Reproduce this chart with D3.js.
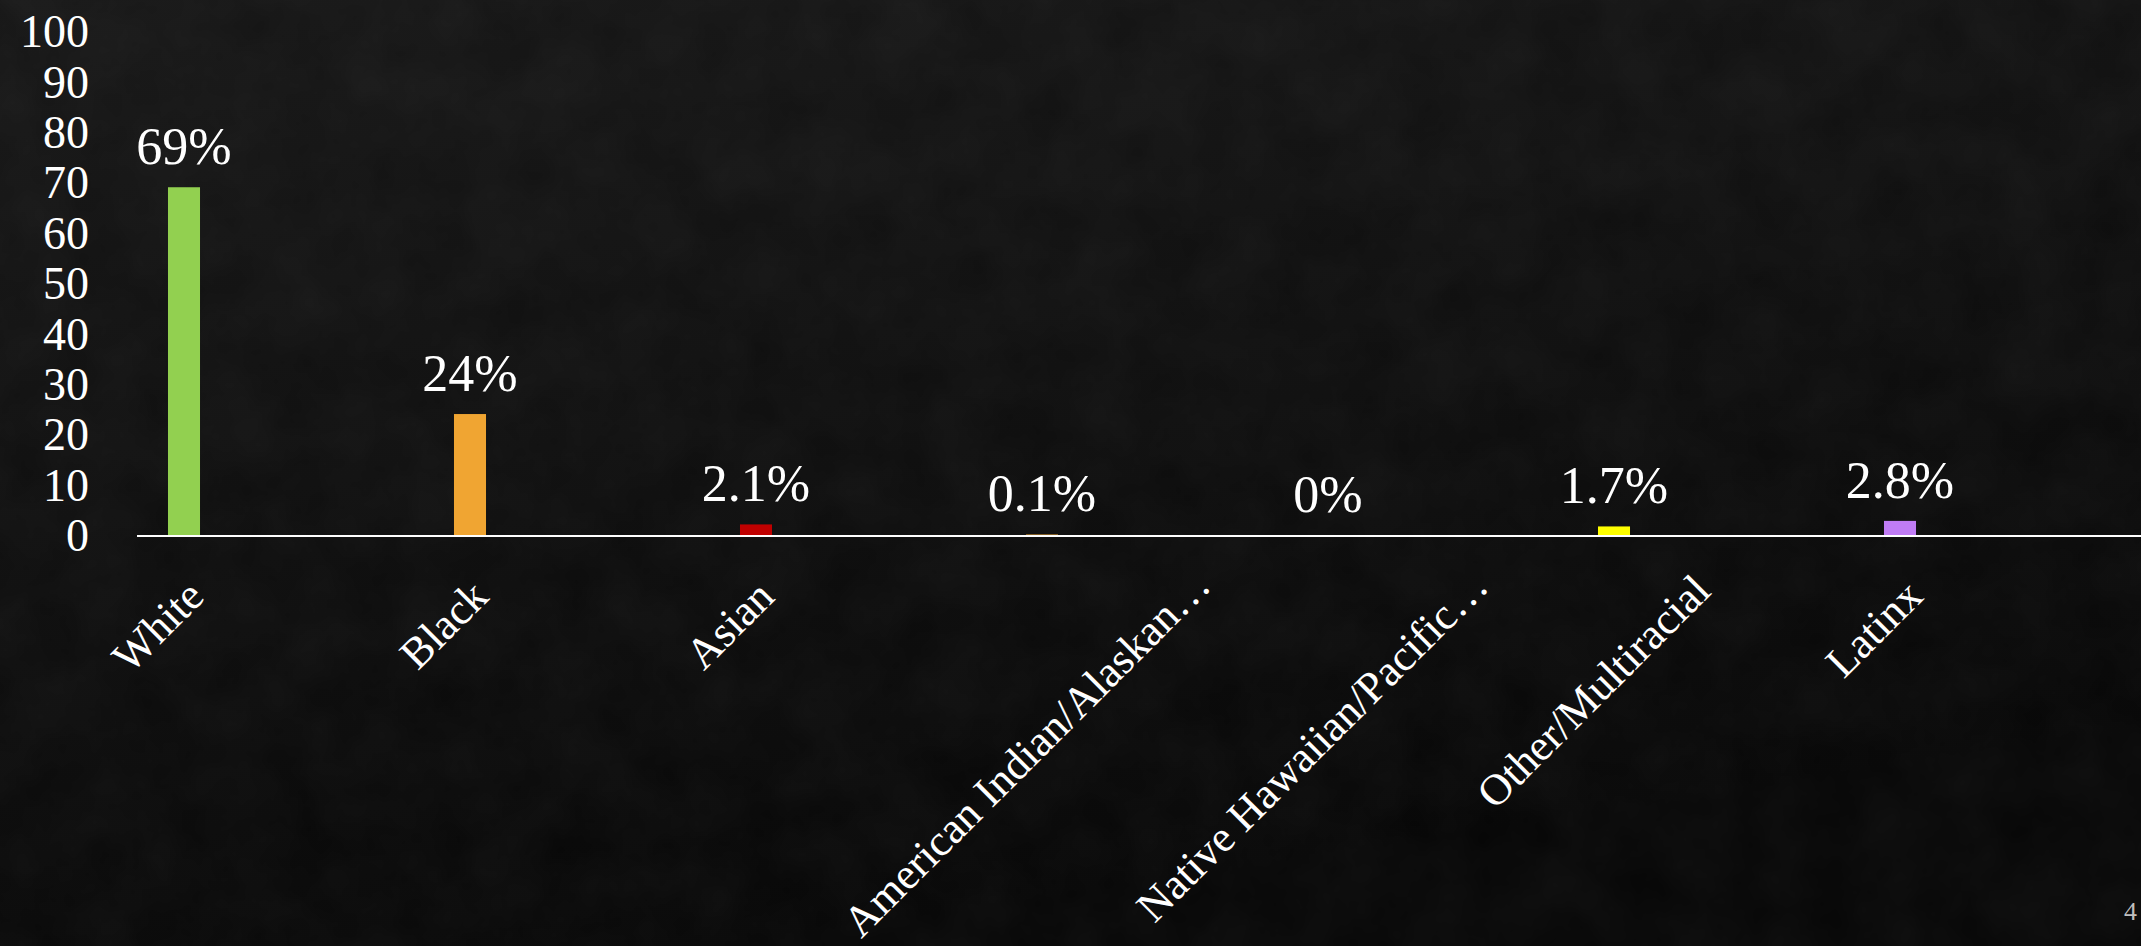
<!DOCTYPE html>
<html>
<head>
<meta charset="utf-8">
<script src="https://cdn.jsdelivr.net/npm/d3@7"></script>
<style>
  html, body { margin: 0; padding: 0; background: #0e0e0e; overflow: hidden; }
  svg { display: block; }
</style>
</head>
<body>
<svg id="chart" width="2141" height="946"></svg>
<script>
// Share of population by race / ethnicity (percent)
const categories = ["White", "Black", "Asian", "American Indian/Alaskan…", "Native Hawaiian/Pacific…", "Other/Multiracial", "Latinx"];
const values = [69, 24, 2.1, 0.1, 0, 1.7, 2.8];
const valueLabels = ["69%", "24%", "2.1%", "0.1%", "0%", "1.7%", "2.8%"];
const barColors = ["#92d050", "#f0a532", "#c00000", "#f0a532", "#5b9bd5", "#ffff00", "#c07cf5"];
const yTicks = [0, 10, 20, 30, 40, 50, 60, 70, 80, 90, 100];
const slideNumber = "4";

const W = 2141, H = 946;
const FONT = "'Liberation Serif', 'Times New Roman', serif";
const svg = d3.select("#chart");

// chalkboard-like backdrop
const defs = svg.append("defs");
const bg = defs.append("linearGradient").attr("id", "bg").attr("x1", 0).attr("y1", 0).attr("x2", 0.35).attr("y2", 1);
bg.append("stop").attr("offset", "0%").attr("stop-color", "#161616");
bg.append("stop").attr("offset", "100%").attr("stop-color", "#060606");
const grain = defs.append("filter").attr("id", "grain").attr("x", 0).attr("y", 0).attr("width", "100%").attr("height", "100%");
grain.append("feTurbulence").attr("type", "fractalNoise").attr("baseFrequency", 0.015).attr("numOctaves", 4).attr("seed", 7);
grain.append("feColorMatrix").attr("type", "matrix")
  .attr("values", "0 0 0 0 1  0 0 0 0 1  0 0 0 0 1  0 0 0 0.045 0");
svg.append("rect").attr("width", W).attr("height", H).attr("fill", "url(#bg)");
svg.append("rect").attr("width", W).attr("height", H).attr("filter", "url(#grain)");

const baseY = 535;
const y = d3.scaleLinear().domain([0, 100]).range([baseY, 31]);
const x = d3.scaleBand().domain(categories).range([41, 2043]).paddingInner(0.888).paddingOuter(0.444);

// y axis labels only
const yAxis = svg.append("g").attr("transform", "translate(89,0)")
  .call(d3.axisLeft(y).tickValues(yTicks).tickSize(0).tickPadding(0));
yAxis.select(".domain").remove();
yAxis.selectAll("text")
  .attr("fill", "#ffffff").attr("font-family", FONT).attr("font-size", 46)
  .attr("dy", "0.34em");

// bars
svg.append("g").selectAll("rect").data(values).join("rect")
  .attr("x", (d, i) => x(categories[i]))
  .attr("width", x.bandwidth())
  .attr("y", d => y(d))
  .attr("height", d => baseY - y(d))
  .attr("fill", (d, i) => barColors[i]);

// value labels
svg.append("g").selectAll("text").data(values).join("text")
  .attr("x", (d, i) => x(categories[i]) + x.bandwidth() / 2)
  .attr("y", d => y(d) - 23)
  .attr("text-anchor", "middle")
  .attr("fill", "#ffffff").attr("font-family", FONT).attr("font-size", 52)
  .text((d, i) => valueLabels[i]);

// category axis line
svg.append("line").attr("x1", 137).attr("x2", W).attr("y1", baseY + 1).attr("y2", baseY + 1)
  .attr("stroke", "#ffffff").attr("stroke-width", 2.2);

// rotated category labels: each label's tilted box is centred under its bar,
// hanging just below the axis line
const LFS = 44, capH = 0.66 * LFS, k = Math.SQRT1_2;
const xAxis = svg.append("g").attr("transform", `translate(0,${baseY})`)
  .call(d3.axisBottom(x).tickSize(0).tickPadding(0));
xAxis.select(".domain").remove();
xAxis.selectAll("text")
  .attr("fill", "#ffffff").attr("font-family", FONT).attr("font-size", LFS)
  .attr("text-anchor", "middle")
  .attr("y", 0)
  .attr("dy", capH / 2)
  .attr("transform", function () {
    const L = this.getComputedTextLength();
    const span = (L + capH) * k;          // horizontal / vertical extent of the tilted text
    const cx = -30 + 0.04 * span;
    const top = 47 - 0.04 * span;
    const cy = top + span / 2;
    return `translate(${cx},${cy}) rotate(-45)`;
  });

// slide number
svg.append("text").attr("x", 2124).attr("y", 920).attr("fill", "#bfbfbf")
  .attr("font-family", FONT).attr("font-size", 26).text(slideNumber);
</script>
</body>
</html>
